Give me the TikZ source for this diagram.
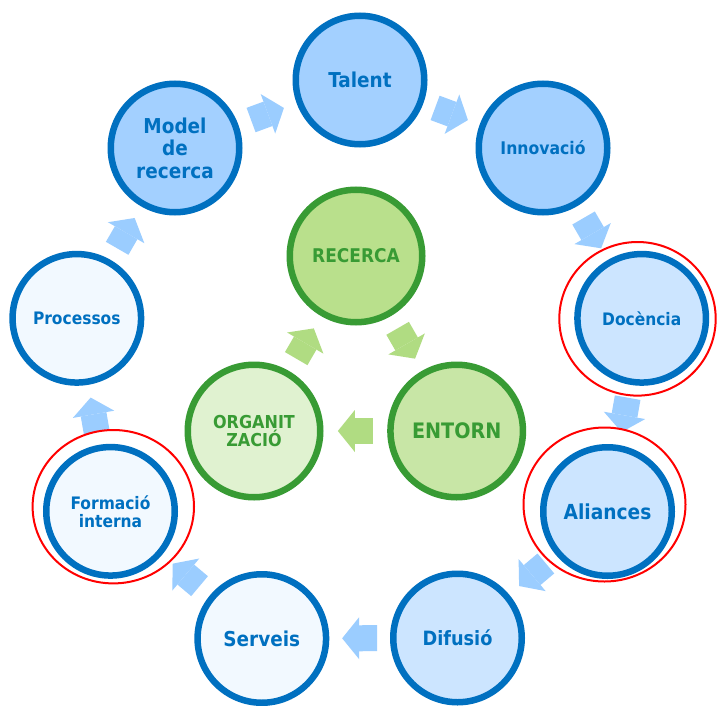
\documentclass[tikz,border=0pt]{standalone}
\usepackage{fontspec}
\usetikzlibrary{arrows.meta,calc,shapes.geometric}
\newfontfamily\labfont{DejaVu Sans Condensed Bold}
\newcommand\lf[2]{\labfont\fontsize{#1}{#2}\selectfont}
\definecolor{bline}{RGB}{0,112,192}
\definecolor{fillA}{RGB}{163,208,255}
\definecolor{fillB}{RGB}{204,229,255}
\definecolor{fillC}{RGB}{242,249,255}
\definecolor{barc}{RGB}{155,205,255}
\definecolor{gline}{RGB}{56,155,52}
\definecolor{gfillA}{RGB}{185,224,140}
\definecolor{gfillB}{RGB}{200,230,166}
\definecolor{gfillC}{RGB}{224,242,208}
\definecolor{garc}{RGB}{176,220,130}
\pgfdeclarelayer{bg}
\pgfsetlayers{bg,main}
\tikzset{
  ring/.style={circle, draw=bline, line width=6.5pt, minimum size=128.5pt, inner sep=0pt, text=bline, align=center},
  gring/.style={circle, draw=gline, line width=6.5pt, minimum size=132.5pt, inner sep=0pt, text=gline, align=center},
  redring/.style={ellipse, draw=red, line width=2pt, fill=white, inner sep=0pt},
  blockarrow/.style={line width=26pt, draw=#1, -{Triangle[width=42pt 0 0,length=17pt 0 0,line width=0pt]}},
}
\newcommand\barrow[3]{\draw[blockarrow=#1] ($(#2)!0.5!(#3)!-17.5pt!(#3)$) -- ($(#2)!0.5!(#3)!17.5pt!(#3)$);}
\begin{document}
\begin{tikzpicture}[x=1pt,y=-1pt]
% red highlight rings
\node[redring, minimum width=156.4pt, minimum height=153.6pt] (docr) at (637.5,318.8) {};
\node[redring, minimum width=162pt, minimum height=154pt] (alir) at (604.5,504.5) {};
\node[redring, minimum width=161.4pt, minimum height=153.4pt] (forr) at (113.3,506.7) {};
% outer ring
\node[ring, fill=fillA, font=\lf{20.5}{22.5}] (tal) at (360,80) {Talent};
\node[ring, fill=fillA, font=\lf{17.4}{19}] (inn) at (543,148) {Innovació};
\node[ring, fill=fillB, font=\lf{17.2}{19}] (doc) at (641.7,318.3) {Docència};
\node[ring, fill=fillB, font=\lf{20.7}{22.5}] (ali) at (607.5,511.5) {Aliances};
\node[ring, fill=fillB, font=\lf{19.7}{22}] (dif) at (457.5,638) {Difusió};
\node[ring, fill=fillC, font=\lf{20.5}{22.5}] (ser) at (261.8,638.5) {Serveis};
\node[ring, fill=fillC, font=\lf{17.2}{18}] (for) at (110.5,511.3) {Formació\\interna};
\node[ring, fill=fillC, font=\lf{17.2}{19}] (pro) at (76.8,318.3) {Processos};
\node[ring, fill=fillA, font=\lf{20.5}{22.5}] (mod) at (175,148) {Model\\de\\recerca};
% inner ring
\node[gring, fill=gfillA, font=\lf{18.9}{20}] (rec) at (356,256) {RECERCA};
\node[gring, fill=gfillB, font=\lf{21.3}{23}] (ent) at (456.7,431) {ENTORN};
\node[gring, fill=gfillC, font=\lf{17.8}{18.3}] (org) at (254,431) {ORGANIT\\ZACIÓ};
\begin{pgfonlayer}{bg}
\path[use as bounding box, fill=white] (0,0) rectangle (717,702);
\barrow{barc}{tal}{inn}
\barrow{barc}{inn}{doc}
\barrow{barc}{doc}{ali}
\barrow{barc}{ali}{dif}
\barrow{barc}{dif}{ser}
\barrow{barc}{ser}{for}
\barrow{barc}{for}{pro}
\barrow{barc}{pro}{mod}
\barrow{barc}{mod}{tal}
\barrow{garc}{rec}{ent}
\barrow{garc}{ent}{org}
\barrow{garc}{org}{rec}
\end{pgfonlayer}
\end{tikzpicture}
\end{document}
